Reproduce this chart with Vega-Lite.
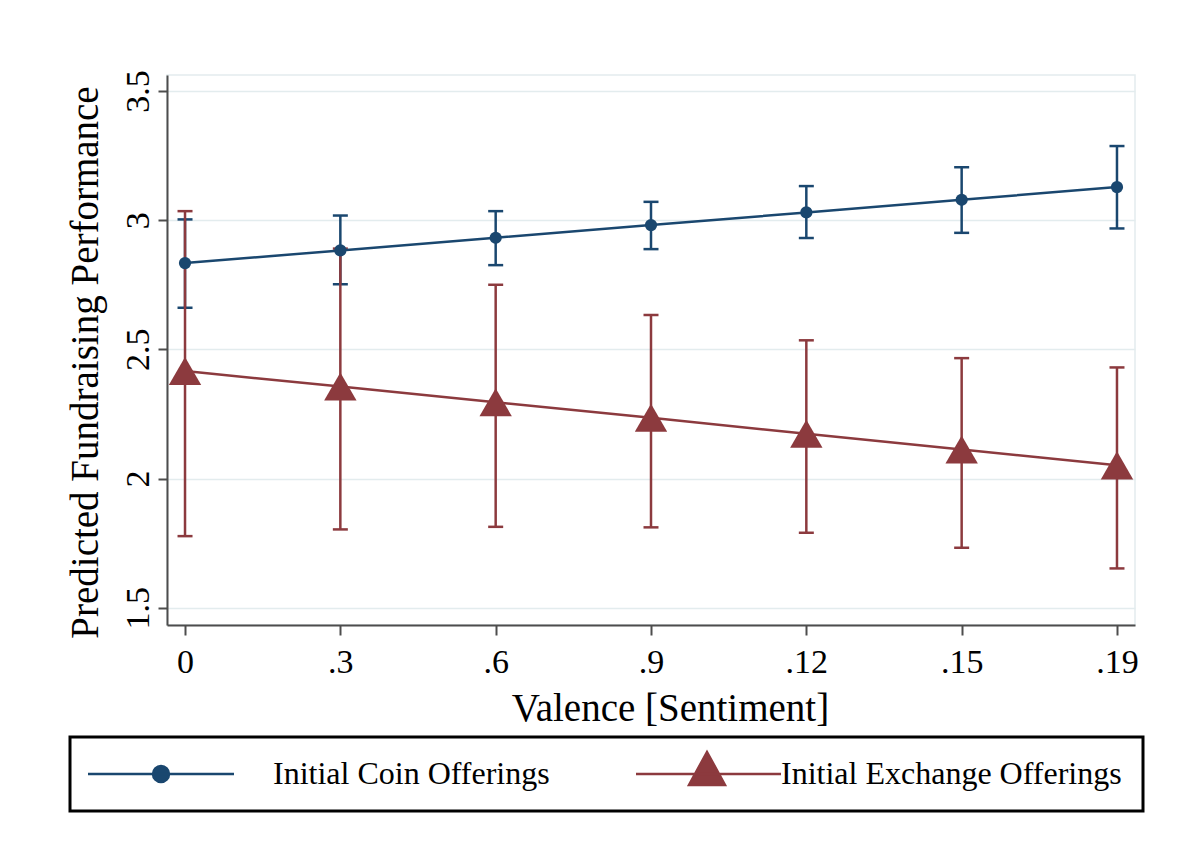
{
  "$schema": "https://vega.github.io/schema/vega-lite/v6.json",
  "width": 968,
  "height": 550,
  "autosize": "none",
  "padding": {"left": 167, "top": 75, "right": 65, "bottom": 243},
  "background": "white",
  "data": {
    "values": [
      {"s": "Initial Coin Offerings", "val": "0", "y": 2.834, "lo": 2.661, "hi": 3.003},
      {"s": "Initial Coin Offerings", "val": ".3", "y": 2.883, "lo": 2.752, "hi": 3.018},
      {"s": "Initial Coin Offerings", "val": ".6", "y": 2.932, "lo": 2.826, "hi": 3.035},
      {"s": "Initial Coin Offerings", "val": ".9", "y": 2.981, "lo": 2.888, "hi": 3.071},
      {"s": "Initial Coin Offerings", "val": ".12", "y": 3.030, "lo": 2.931, "hi": 3.132},
      {"s": "Initial Coin Offerings", "val": ".15", "y": 3.079, "lo": 2.951, "hi": 3.205},
      {"s": "Initial Coin Offerings", "val": ".19", "y": 3.128, "lo": 2.968, "hi": 3.287},
      {"s": "Initial Exchange Offerings", "val": "0", "y": 2.416, "lo": 1.777, "hi": 3.035},
      {"s": "Initial Exchange Offerings", "val": ".3", "y": 2.356, "lo": 1.803, "hi": 2.89},
      {"s": "Initial Exchange Offerings", "val": ".6", "y": 2.295, "lo": 1.813, "hi": 2.75},
      {"s": "Initial Exchange Offerings", "val": ".9", "y": 2.235, "lo": 1.811, "hi": 2.633},
      {"s": "Initial Exchange Offerings", "val": ".12", "y": 2.173, "lo": 1.79, "hi": 2.535},
      {"s": "Initial Exchange Offerings", "val": ".15", "y": 2.112, "lo": 1.732, "hi": 2.466},
      {"s": "Initial Exchange Offerings", "val": ".19", "y": 2.051, "lo": 1.652, "hi": 2.43}
    ]
  },
  "encoding": {
    "x": {
      "field": "val",
      "type": "ordinal",
      "sort": ["0", ".3", ".6", ".9", ".12", ".15", ".19"],
      "scale": {"type": "point", "padding": 0.116},
      "title": "Valence [Sentiment]"
    }
  },
  "layer": [
    {
      "transform": [{"filter": "datum.s == 'Initial Coin Offerings'"}],
      "mark": {"type": "rule", "color": "#1a476f", "strokeWidth": 2.5},
      "encoding": {
        "y": {
          "field": "lo", "type": "quantitative",
          "scale": {"domain": [1.433, 3.562], "nice": false, "zero": false},
          "axis": {"values": [1.5, 2, 2.5, 3, 3.5], "format": ".1~f"},
          "title": "Predicted Fundraising Performance"
        },
        "y2": {"field": "hi"}
      }
    },
    {
      "transform": [{"filter": "datum.s == 'Initial Coin Offerings'"}],
      "mark": {"type": "tick", "color": "#1a476f", "size": 15, "thickness": 2.5, "opacity": 1},
      "encoding": {"y": {"field": "lo", "type": "quantitative", "title": "Predicted Fundraising Performance"}}
    },
    {
      "transform": [{"filter": "datum.s == 'Initial Coin Offerings'"}],
      "mark": {"type": "tick", "color": "#1a476f", "size": 15, "thickness": 2.5, "opacity": 1},
      "encoding": {"y": {"field": "hi", "type": "quantitative", "title": "Predicted Fundraising Performance"}}
    },
    {
      "transform": [{"filter": "datum.s == 'Initial Exchange Offerings'"}],
      "mark": {"type": "rule", "color": "#8c3a3e", "strokeWidth": 2.5},
      "encoding": {
        "y": {"field": "lo", "type": "quantitative", "title": "Predicted Fundraising Performance"},
        "y2": {"field": "hi"}
      }
    },
    {
      "transform": [{"filter": "datum.s == 'Initial Exchange Offerings'"}],
      "mark": {"type": "tick", "color": "#8c3a3e", "size": 15, "thickness": 2.5, "opacity": 1},
      "encoding": {"y": {"field": "lo", "type": "quantitative", "title": "Predicted Fundraising Performance"}}
    },
    {
      "transform": [{"filter": "datum.s == 'Initial Exchange Offerings'"}],
      "mark": {"type": "tick", "color": "#8c3a3e", "size": 15, "thickness": 2.5, "opacity": 1},
      "encoding": {"y": {"field": "hi", "type": "quantitative", "title": "Predicted Fundraising Performance"}}
    },
    {
      "transform": [{"filter": "datum.s == 'Initial Coin Offerings'"}],
      "mark": {"type": "line", "color": "#1a476f", "strokeWidth": 2.5},
      "encoding": {"y": {"field": "y", "type": "quantitative", "title": "Predicted Fundraising Performance"}}
    },
    {
      "transform": [{"filter": "datum.s == 'Initial Coin Offerings'"}],
      "mark": {"type": "point", "shape": "circle", "filled": true, "color": "#1a476f", "size": 150, "opacity": 1},
      "encoding": {"y": {"field": "y", "type": "quantitative", "title": "Predicted Fundraising Performance"}}
    },
    {
      "transform": [{"filter": "datum.s == 'Initial Exchange Offerings'"}],
      "mark": {"type": "line", "color": "#8c3a3e", "strokeWidth": 2.5},
      "encoding": {"y": {"field": "y", "type": "quantitative", "title": "Predicted Fundraising Performance"}}
    },
    {
      "transform": [{"filter": "datum.s == 'Initial Exchange Offerings'"}],
      "mark": {"type": "point", "shape": "triangle-up", "filled": true, "color": "#8c3a3e", "size": 1050, "opacity": 1},
      "encoding": {"y": {"field": "y", "type": "quantitative", "title": "Predicted Fundraising Performance"}}
    },
    {
      "mark": {"type": "point", "filled": true, "size": 0, "opacity": 1},
      "encoding": {
        "y": {"field": "y", "type": "quantitative", "title": "Predicted Fundraising Performance"},
        "color": {
          "field": "s", "type": "nominal",
          "scale": {"domain": ["Initial Coin Offerings", "Initial Exchange Offerings"], "range": ["#1a476f", "#8c3a3e"]},
          "legend": {
            "orient": "none",
            "legendX": -97,
            "legendY": 662,
            "direction": "horizontal",
            "title": null,
            "symbolSize": 4,
            "symbolStrokeWidth": 2.5,
            "symbolOpacity": 1,
            "labelFont": "Liberation Serif",
            "labelFontSize": 32,
            "labelColor": "black",
            "labelOffset": 150,
            "labelLimit": 0,
            "columnPadding": 49,
            "padding": 21,
            "strokeColor": "black",
            "encode": {
              "legend": {"update": {"strokeWidth": {"value": 3}}},
              "symbols": {"update": {
                "fill": {"scale": "color", "field": "value"},
                "stroke": {"scale": "color", "field": "value"},
                "strokeWidth": {"value": 2.5},
                "opacity": {"value": 1}
              }}
            }
          }
        },
        "shape": {
          "field": "s", "type": "nominal",
          "scale": {
            "domain": ["Initial Coin Offerings", "Initial Exchange Offerings"],
            "range": [
              "M-19,0H127M46,0A8,8 0 1,0 62,0A8,8 0 1,0 46,0Z",
              "M21,0H166M92,-22L74,11L110,11Z"
            ]
          }
        }
      }
    }
  ],
  "config": {
    "font": "Liberation Serif",
    "view": {"stroke": "#e4ecee", "strokeWidth": 1.5},
    "axis": {
      "domainColor": "#4d4d4d",
      "domainWidth": 2,
      "tickColor": "#4d4d4d",
      "tickWidth": 2,
      "labelColor": "black",
      "titleColor": "black",
      "titleFontWeight": "normal",
      "labelFont": "Liberation Serif",
      "titleFont": "Liberation Serif",
      "labelFontSize": 34,
      "titleFontSize": 39
    },
    "axisY": {
      "grid": true,
      "gridColor": "#e3ecee",
      "gridWidth": 1.5,
      "tickSize": 9,
      "labelAngle": 270,
      "labelAlign": "center",
      "labelBaseline": "alphabetic",
      "labelPadding": 10,
      "titleAngle": 270,
      "titleAlign": "center",
      "titleBaseline": "alphabetic",
      "titleX": -70,
      "titleY": 287
    },
    "axisX": {
      "grid": false,
      "tickSize": 10,
      "labelAngle": 0,
      "labelBaseline": "alphabetic",
      "labelPadding": 37,
      "titleBaseline": "alphabetic",
      "titleAlign": "center",
      "titleX": 503,
      "titleY": 95
    }
  }
}
